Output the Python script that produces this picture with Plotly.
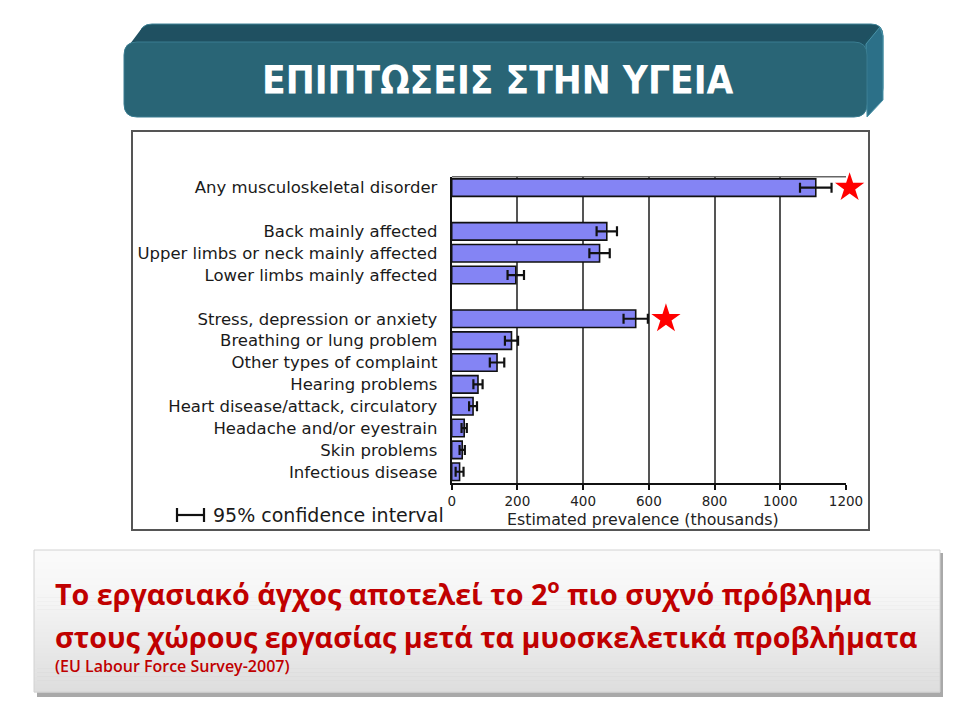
import plotly.graph_objects as go

# ---- data -------------------------------------------------------------
groups = [
    ["Any musculoskeletal disorder"],
    ["Back mainly affected",
     "Upper limbs or neck mainly affected",
     "Lower limbs mainly affected"],
    ["Stress, depression or anxiety",
     "Breathing or lung problem",
     "Other types of complaint",
     "Hearing problems",
     "Heart disease/attack, circulatory",
     "Headache and/or eyestrain",
     "Skin problems",
     "Infectious disease"],
]
prevalence = [1108, 472, 450, 195, 560, 182, 138, 80, 65, 38, 32, 24]   # thousands
ci_half = [48, 31, 31, 25, 37, 20, 22, 14, 12, 8, 8, 12]               # 95% CI half-width
highlighted = ["Any musculoskeletal disorder", "Stress, depression or anxiety"]
x_ticks = [0, 200, 400, 600, 800, 1000, 1200]

title_text = "ΕΠΙΠΤΩΣΕΙΣ ΣΤΗΝ ΥΓΕΙΑ"
note_line1 = "Το εργασιακό άγχος αποτελεί το 2<sup>ο</sup> πιο συχνό πρόβλημα"
note_line2 = "στους χώρους εργασίας μετά τα μυοσκελετικά προβλήματα"
note_source = "(EU Labour Force Survey-2007)"
axis_title = "Estimated prevalence (thousands)"
ci_legend = "95% confidence interval"

# ---- row positions: one empty slot between groups ---------------------
labels, slots = [], []
pos = 0
for gi, grp in enumerate(groups):
    if gi > 0:
        pos += 1
    for name in grp:
        labels.append(name)
        slots.append(pos)
        pos += 1
n_slots = pos

W, H = 960, 720


def px(x):
    return x / W


def py(y):
    return 1 - y / H


plot_left, plot_right = 451.7, 846.0
plot_top, plot_bottom = 176.7, 482.7
x_max = 1200
# the star overlay uses the same scale but reaches further right
overlay_right = 935.0
overlay_max = x_max * (overlay_right - plot_left) / (plot_right - plot_left)

fig = go.Figure()

fig.add_trace(go.Bar(
    y=slots, x=prevalence, orientation="h", width=0.8,
    marker=dict(color="#8484f4", line=dict(color="#111111", width=1.6)),
    error_x=dict(type="data", array=ci_half, color="#111111",
                 thickness=2.2, width=5),
    hoverinfo="skip", showlegend=False,
))

# red stars beside the two most common complaints
star_x, star_y = [], []
for name in highlighted:
    i = labels.index(name)
    star_x.append(prevalence[i] + ci_half[i] + 55)
    star_y.append(slots[i])
fig.add_trace(go.Scatter(
    x=star_x, y=star_y, xaxis="x2", yaxis="y",
    mode="markers", cliponaxis=False,
    marker=dict(symbol="star", size=22, color="#ff0000", line=dict(width=0)),
    hoverinfo="skip", showlegend=False,
))

fig.update_layout(
    xaxis=dict(
        domain=[px(plot_left), px(plot_right)], range=[0, x_max],
        tickvals=x_ticks, ticktext=[str(t) for t in x_ticks],
        showgrid=True, gridcolor="#555555", gridwidth=1.6,
        showline=True, linecolor="#111111", linewidth=2,
        ticks="outside", ticklen=5, tickwidth=1.5, tickcolor="#111111",
        ticklabelstandoff=0,
        tickfont=dict(family="DejaVu Sans", size=13.5, color="#222222"),
        zeroline=False, fixedrange=True, automargin=False, anchor="y",
    ),
    xaxis2=dict(
        domain=[px(plot_left), px(overlay_right)], range=[0, overlay_max],
        visible=False, showgrid=False, zeroline=False,
        fixedrange=True, automargin=False, anchor="y",
    ),
    yaxis=dict(
        domain=[py(plot_bottom), py(plot_top)],
        range=[n_slots - 0.5, -0.5],
        tickvals=slots, ticktext=labels,
        showgrid=False, showline=True, linecolor="#111111", linewidth=2,
        ticks="", ticklabelstandoff=9,
        tickfont=dict(family="DejaVu Sans", size=16.5, color="#1a1a1a"),
        zeroline=False, fixedrange=True, automargin=False, anchor="x",
    ),
)

shapes = []

# chart frame
shapes.append(dict(type="rect", xref="paper", yref="paper", layer="below",
                   x0=px(132), x1=px(869), y0=py(530), y1=py(131),
                   fillcolor="white", line=dict(color="#555555", width=2)))
# top edge of plotting area
shapes.append(dict(type="line", xref="x", yref="paper", layer="below",
                   x0=0, x1=x_max, y0=py(plot_top), y1=py(plot_top),
                   line=dict(color="#666666", width=1.6)))

# confidence-interval legend symbol
ly = 515
shapes.append(dict(type="line", xref="paper", yref="paper",
                   x0=px(177), x1=px(204), y0=py(ly), y1=py(ly),
                   line=dict(color="#111111", width=2.2)))
for cx in (177, 204):
    shapes.append(dict(type="line", xref="paper", yref="paper",
                       x0=px(cx), x1=px(cx), y0=py(ly - 7), y1=py(ly + 7),
                       line=dict(color="#111111", width=2.2)))


def rounded_rect_path(x0, y0, x1, y1, r):
    p = [
        f"M {px(x0 + r)} {py(y0)}",
        f"L {px(x1 - r)} {py(y0)}",
        f"Q {px(x1)} {py(y0)} {px(x1)} {py(y0 + r)}",
        f"L {px(x1)} {py(y1 - r)}",
        f"Q {px(x1)} {py(y1)} {px(x1 - r)} {py(y1)}",
        f"L {px(x0 + r)} {py(y1)}",
        f"Q {px(x0)} {py(y1)} {px(x0)} {py(y1 - r)}",
        f"L {px(x0)} {py(y0 + r)}",
        f"Q {px(x0)} {py(y0)} {px(x0 + r)} {py(y0)}",
        "Z",
    ]
    return " ".join(p)


def poly_path(points):
    return "M " + " L ".join(f"{px(x)} {py(y)}" for x, y in points) + " Z"


# title banner drawn as a bevelled 3-D block
shapes.append(dict(type="path", xref="paper", yref="paper",
                   path=rounded_rect_path(140, 24, 883, 100, 12),
                   fillcolor="#1e5262", line=dict(color="#3f8296", width=1)))
shapes.append(dict(type="path", xref="paper", yref="paper",
                   path=poly_path([(866, 44), (880, 27), (883, 36), (883, 100), (867, 117)]),
                   fillcolor="#2c7088", line=dict(color="#4a93a8", width=1)))
shapes.append(dict(type="path", xref="paper", yref="paper",
                   path=poly_path([(127, 48), (142, 28), (875, 28), (862, 44)]),
                   fillcolor="#1f5061", line=dict(width=0)))
shapes.append(dict(type="path", xref="paper", yref="paper",
                   path=rounded_rect_path(124, 42, 867, 117, 13),
                   fillcolor="#296576", line=dict(color="#3a7d91", width=1)))

# note box: drop shadow, then a soft white-to-grey gradient
bx0, bx1, by0, by1 = 34, 940, 550, 692
shapes.append(dict(type="rect", xref="paper", yref="paper",
                   x0=px(bx0 + 3), x1=px(bx1 + 3), y0=py(by1 + 5), y1=py(by0 + 3),
                   fillcolor="#a9a9a9", line=dict(width=0)))
n_strips = 36
for k in range(n_strips):
    t = k / (n_strips - 1)
    if t < 0.35:
        c = 250 - int(6 * (t / 0.35))
    else:
        c = 244 - int(22 * ((t - 0.35) / 0.65))
    ya = by0 + (by1 - by0) * k / n_strips
    yb = by0 + (by1 - by0) * (k + 1) / n_strips
    shapes.append(dict(type="rect", xref="paper", yref="paper",
                       x0=px(bx0), x1=px(bx1), y0=py(yb + 0.5), y1=py(ya),
                       fillcolor=f"rgb({c},{c},{c})", line=dict(width=0)))
shapes.append(dict(type="rect", xref="paper", yref="paper",
                   x0=px(bx0), x1=px(bx1), y0=py(by1), y1=py(by0),
                   fillcolor="rgba(0,0,0,0)", line=dict(color="#d2d2d2", width=1)))

annotations = [
    dict(text=title_text, x=px(498), y=py(80), xref="paper", yref="paper",
         xanchor="center", yanchor="middle", showarrow=False,
         font=dict(family="Liberation Sans Narrow, DejaVu Sans Condensed, Lato",
                   size=38.5, color="white", weight="bold")),
    dict(text=axis_title, x=px(643), y=py(519), xref="paper", yref="paper",
         xanchor="center", yanchor="middle", showarrow=False,
         font=dict(family="DejaVu Sans", size=15.8, color="#222222")),
    dict(text=ci_legend, x=px(211), y=py(515), xref="paper", yref="paper",
         xanchor="left", yanchor="middle", showarrow=False,
         font=dict(family="DejaVu Sans", size=19, color="#1a1a1a")),
    dict(text=note_line1, x=px(53), y=py(592), xref="paper", yref="paper",
         xanchor="left", yanchor="middle", showarrow=False,
         font=dict(family="Open Sans", size=28.7, color="#c00000", weight="bold")),
    dict(text=note_line2, x=px(53), y=py(636), xref="paper", yref="paper",
         xanchor="left", yanchor="middle", showarrow=False,
         font=dict(family="Open Sans", size=28.7, color="#c00000", weight="bold")),
    dict(text=note_source, x=px(53), y=py(666), xref="paper", yref="paper",
         xanchor="left", yanchor="middle", showarrow=False,
         font=dict(family="Open Sans", size=16, color="#c00000", weight=600)),
]

fig.update_layout(
    width=W, height=H, autosize=False,
    margin=dict(l=0, r=0, t=0, b=0, pad=0, autoexpand=False),
    paper_bgcolor="white", plot_bgcolor="rgba(0,0,0,0)",
    shapes=shapes, annotations=annotations,
    bargap=0.2, showlegend=False,
)

fig.write_html("out.html")
